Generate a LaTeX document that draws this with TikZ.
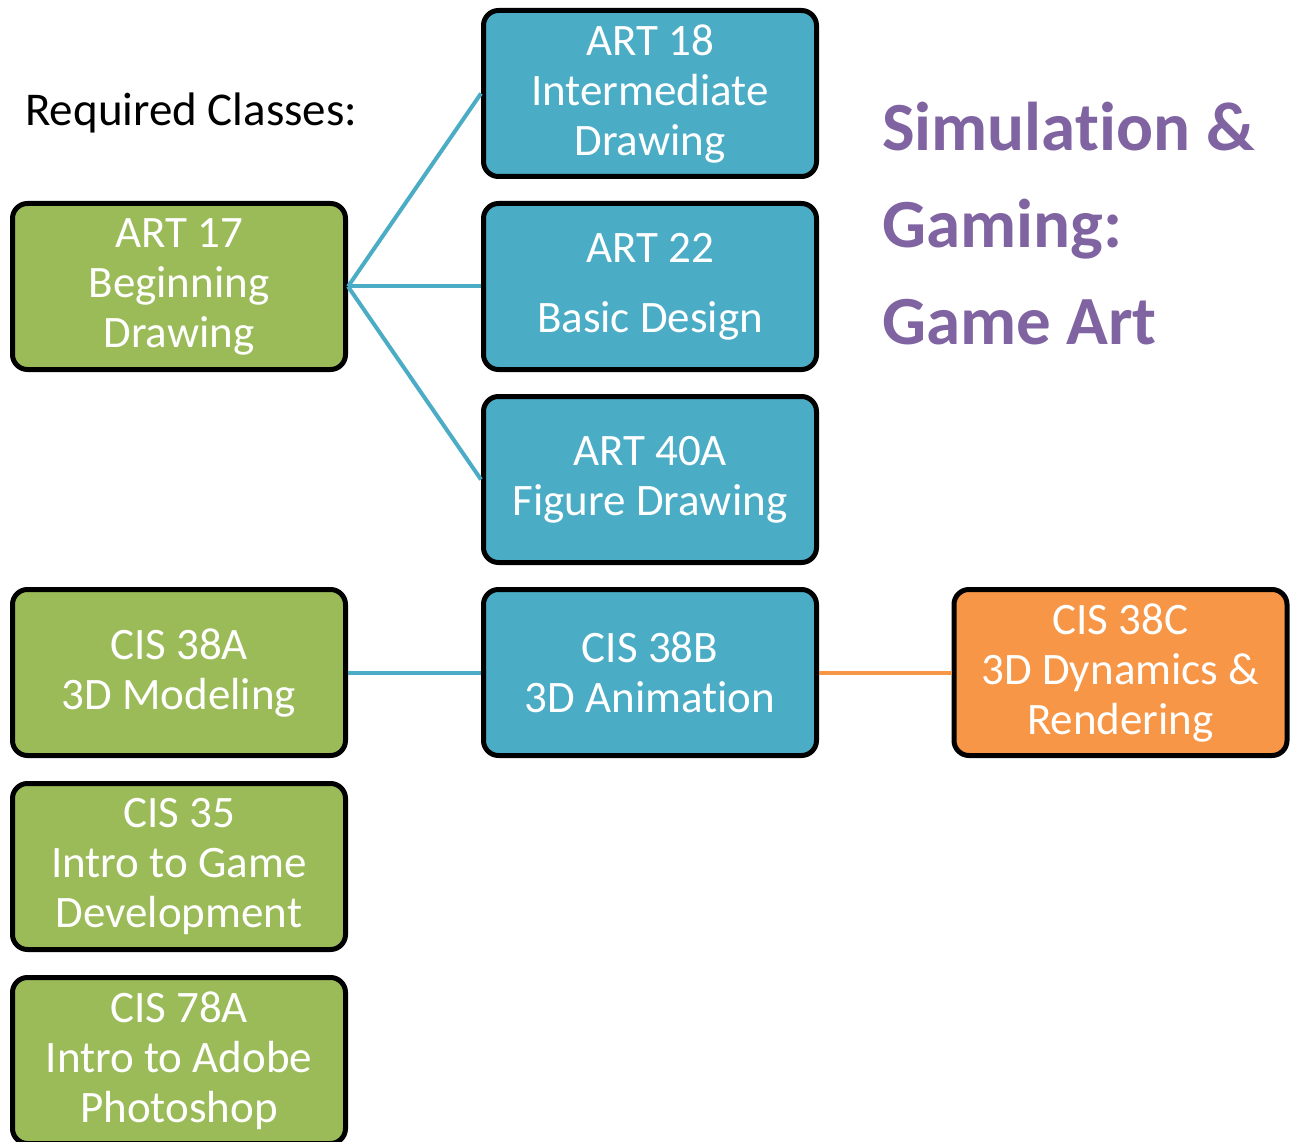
\documentclass[tikz,border=0pt]{standalone}
\usepackage{fontspec}
\setmainfont{Carlito}[Ligatures=NoCommon]
\definecolor{cgreen}{HTML}{9BBB59}
\definecolor{cblue}{HTML}{4BACC6}
\definecolor{corange}{HTML}{F79646}
\definecolor{cpurple}{HTML}{8064A2}
\begin{document}
\begin{tikzpicture}[x=1pt,y=-1pt,
  box/.style={draw=black, line width=5pt, rounded corners=15pt, minimum width=333pt, minimum height=166pt, inner sep=0pt, text=white, align=center, font=\fontsize{45}{50}\selectfont},
  gbox/.style={box, fill=cgreen},
  bbox/.style={box, fill=cblue},
  obox/.style={box, fill=corange},
  link/.style={line width=4pt, draw=cblue},
  olink/.style={line width=4pt, draw=corange}]
\useasboundingbox (0,0) rectangle (1291,1142);
\node[anchor=west, font=\fontsize{47}{52}\selectfont, inner sep=0pt] (req) at (25,113) {Required Classes:};
\node[anchor=north west, align=left, text=cpurple, font=\fontsize{69}{97}\selectfont\bfseries, inner sep=0pt] (title) at (882,102) {Simulation \&\\Gaming:\\Game Art};
\node[gbox] (a17) at (179,286.5) {ART 17\\Beginning\\Drawing};
\node[bbox] (a18) at (650,93.5) {ART 18\\Intermediate\\Drawing};
\node[bbox] (a22) at (650,286.5) {ART 22\\[20pt]Basic Design};
\node[bbox] (a40) at (650,479.5) {ART 40A\\Figure Drawing};
\node[gbox] (c38a) at (179,672.5) {CIS 38A\\3D Modeling};
\node[bbox] (c38b) at (650,672.5) {CIS 38B\\3D Animation};
\node[obox] (c38c) at (1120.5,672.5) {CIS 38C\\3D Dynamics \&\\Rendering};
\node[gbox] (c35) at (179,866.5) {CIS 35\\Intro to Game\\Development};
\node[gbox] (c78) at (179,1060.5) {CIS 78A\\Intro to Adobe\\Photoshop};
\draw[link] (a17.east) -- (a18.west);
\draw[link] (a17.east) -- (a22.west);
\draw[link] (a17.east) -- (a40.west);
\draw[link] (c38a.east) -- (c38b.west);
\draw[olink] (c38b.east) -- (c38c.west);
\end{tikzpicture}
\end{document}
